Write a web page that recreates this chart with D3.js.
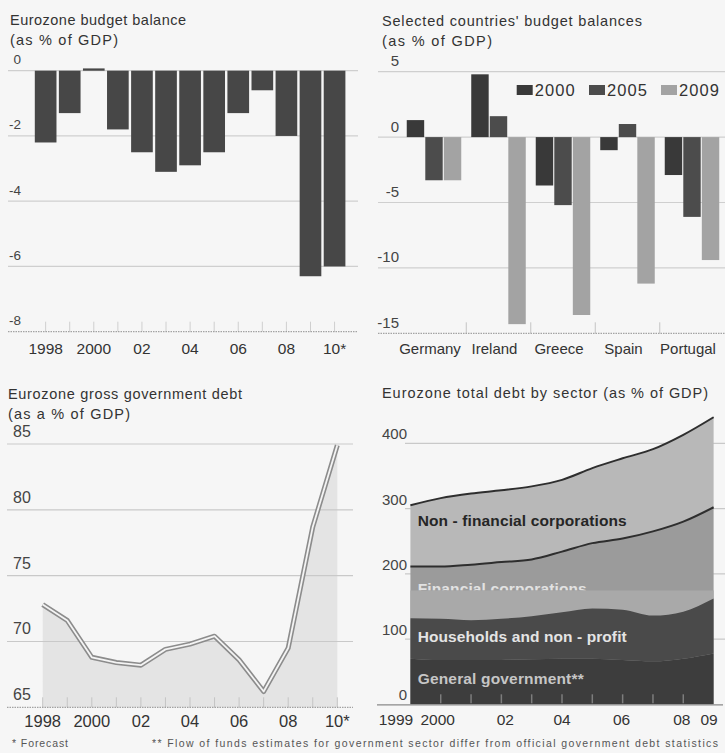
<!DOCTYPE html>
<html>
<head>
<meta charset="utf-8">
<script src="https://cdn.jsdelivr.net/npm/d3@7"></script>
<style>
  html, body { margin: 0; padding: 0; background: #f6f6f6; }
  svg { display: block; }
  text { font-family: "Liberation Sans", Arial, sans-serif; }
</style>
</head>
<body>
<svg id="chart" width="725" height="753"></svg>
<script>
// ---------------- DATA ----------------
// Chart 1: Eurozone budget balance (% of GDP)
const balanceYears = ["1998","1999","2000","2001","2002","2003","2004","2005","2006","2007","2008","2009","2010"];
const balanceValues = [-2.2, -1.3, 0.07, -1.8, -2.5, -3.1, -2.9, -2.5, -1.3, -0.6, -2.0, -6.3, -6.0];
const balanceAxisYears = ["1998","2000","2002","2004","2006","2008","2010"];
const balanceAxisLabels = ["1998","2000","02","04","06","08","10*"];
const balanceYTicks = [0, -2, -4, -6, -8];

// Chart 2: Selected countries' budget balances
const countries = ["Germany","Ireland","Greece","Spain","Portugal"];
const countrySeries = ["2000","2005","2009"];
const values2000 = [1.3, 4.8, -3.7, -1.0, -2.9];
const values2005 = [-3.3, 1.6, -5.2, 1.0, -6.1];
const values2009 = [-3.3, -14.3, -13.6, -11.2, -9.4];
const countryYTicks = [5, 0, -5, -10, -15];

// Chart 3: Eurozone gross government debt (% of GDP)
const debtYears = [1998,1999,2000,2001,2002,2003,2004,2005,2006,2007,2008,2009,2010];
const debtValues = [72.8, 71.6, 68.8, 68.4, 68.2, 69.4, 69.8, 70.4, 68.6, 66.2, 69.5, 78.7, 84.9];
const debtAxisYears = [1998,2000,2002,2004,2006,2008,2010];
const debtAxisLabels = ["1998","2000","02","04","06","08","10*"];
const debtYTicks = [85, 80, 75, 70, 65];

// Chart 4: Eurozone total debt by sector (% of GDP)
const sectorYears = [1999,2000,2001,2002,2003,2004,2005,2006,2007,2008,2009];
const sectorNames = ["General government**","Households and non - profit","Financial corporations","Non - financial corporations"];
const govDebt = [70, 68, 68, 68, 69, 70, 70, 68, 66, 70, 78];
const householdDebt = [62, 63, 61, 63, 66, 71, 77, 77, 70, 72, 84];
const financialDebt = [79, 80, 85, 87, 87, 93, 100, 109, 129, 138, 140];
const nonFinancialDebt = [94, 105, 109, 110, 112, 110, 115, 123, 126, 133, 138];
const sectorAxisYears = [1999,2000,2002,2004,2006,2008,2009];
const sectorAxisLabels = ["1999","2000","02","04","06","08","09"];
const sectorTickYears = [2000,2001,2002,2003,2004,2005,2006,2007,2008];
const sectorYTicks = [0, 100, 200, 300, 400];

// ---------------- DRAW ----------------
const svg = d3.select("#chart");
svg.append("rect").attr("width", 725).attr("height", 753).attr("fill", "#f6f6f6");

const titleColor = "#333";
function title(x, y, txt, len) {
  svg.append("text").attr("x", x).attr("y", y).text(txt)
    .attr("font-size", 14.5).attr("fill", titleColor)
    .attr("textLength", len).attr("lengthAdjust", "spacing");
}

// ===== Chart 1 =====
{
  title(10, 25, "Eurozone budget balance", 176);
  title(10, 45, "(as % of GDP)", 108);
  const g = svg.append("g");
  const x = d3.scaleBand().domain(balanceYears).range([33.6, 346.6]).paddingInner(0.1).paddingOuter(0.05);
  const y = d3.scaleLinear().domain([-8, 0]).range([331.7, 70.7]);
  const bw = x.bandwidth();
  g.selectAll(".grid").data(balanceYTicks.filter(t => t > -8)).join("line")
    .attr("x1", 8).attr("x2", 358).attr("y1", d => y(d)).attr("y2", d => y(d))
    .attr("stroke", "#cfcfcf").attr("stroke-width", 1.2);
  g.selectAll(".tick").data(balanceYears).join("line")
    .attr("x1", d => x(d) + bw / 2).attr("x2", d => x(d) + bw / 2)
    .attr("y1", y(-8) - 10).attr("y2", y(-8))
    .attr("stroke", "#cfcfcf").attr("stroke-width", 1);
  g.append("line").attr("x1", 8).attr("x2", 358).attr("y1", y(-8)).attr("y2", y(-8))
    .attr("stroke", "#8f8f8f").attr("stroke-width", 1).attr("stroke-dasharray", "1.5,1");
  g.selectAll(".bar").data(balanceValues).join("rect")
    .attr("x", (d, i) => x(balanceYears[i]))
    .attr("width", bw)
    .attr("y", d => Math.min(y(d), y(0)))
    .attr("height", d => Math.abs(y(d) - y(0)))
    .attr("fill", "#474747");
  g.selectAll(".ylab").data(balanceYTicks).join("text")
    .attr("x", 21).attr("y", d => y(d) - 6.5).attr("text-anchor", "end")
    .attr("font-size", 13.5).attr("fill", "#444")
    .text(d => d < 0 ? "-" + Math.abs(d) : String(d));
  g.selectAll(".xlab").data(balanceAxisYears).join("text")
    .attr("x", d => x(d) + bw / 2).attr("y", 353.5).attr("text-anchor", "middle")
    .attr("font-size", 15.5).attr("fill", "#333")
    .text((d, i) => balanceAxisLabels[i]);
}

// ===== Chart 2 =====
{
  title(382, 26, "Selected countries' budget balances", 260);
  title(382, 46, "(as % of GDP)", 110);
  const g = svg.append("g");
  const x0 = d3.scaleBand().domain(countries).range([401.75, 724.25]);
  const x1 = d3.scaleBand().domain(countrySeries).range([5, 59.5]).paddingInner(0.06);
  const y = d3.scaleLinear().domain([-15, 5]).range([333.3, 71.7]);
  const colors = { "2000": "#393939", "2005": "#4c4c4c", "2009": "#a3a3a3" };
  const seriesVals = { "2000": values2000, "2005": values2005, "2009": values2009 };
  g.selectAll(".grid").data(countryYTicks.filter(t => t > -15)).join("line")
    .attr("x1", 378).attr("x2", 725).attr("y1", d => y(d)).attr("y2", d => y(d))
    .attr("stroke", "#cfcfcf").attr("stroke-width", 1.2);
  g.selectAll(".sep").data(countries.slice(1)).join("line")
    .attr("x1", d => x0(d)).attr("x2", d => x0(d))
    .attr("y1", y(-15) - 11).attr("y2", y(-15))
    .attr("stroke", "#c4c4c4").attr("stroke-width", 1);
  g.append("line").attr("x1", 378).attr("x2", 725).attr("y1", y(-15)).attr("y2", y(-15))
    .attr("stroke", "#8f8f8f").attr("stroke-width", 1).attr("stroke-dasharray", "1.5,1");
  countrySeries.forEach(s => {
    g.selectAll(".bar" + s).data(seriesVals[s]).join("rect")
      .attr("x", (d, i) => x0(countries[i]) + x1(s))
      .attr("width", x1.bandwidth())
      .attr("y", d => Math.min(y(d), y(0)))
      .attr("height", d => Math.abs(y(d) - y(0)))
      .attr("fill", colors[s]);
  });
  g.selectAll(".ylab").data(countryYTicks).join("text")
    .attr("x", 399).attr("y", d => y(d) - 5.5).attr("text-anchor", "end")
    .attr("font-size", 15).attr("fill", "#444")
    .text(d => d < 0 ? "-" + Math.abs(d) : String(d));
  g.selectAll(".xlab").data(countries).join("text")
    .attr("x", d => x0(d) + x0.bandwidth() / 2 - 4).attr("y", 353.5).attr("text-anchor", "middle")
    .attr("font-size", 15).attr("fill", "#333")
    .text(d => d);
  // legend
  const lx = d3.scaleOrdinal().domain(countrySeries).range([516.7, 589, 661]);
  const leg = g.selectAll(".leg").data(countrySeries).join("g")
    .attr("transform", d => `translate(${lx(d)},85)`);
  leg.append("rect").attr("width", 16).attr("height", 10).attr("fill", d => colors[d]);
  leg.append("text").attr("x", 18).attr("y", 10.5).attr("font-size", 16.5).attr("fill", "#333")
    .attr("textLength", 40).attr("lengthAdjust", "spacing").text(d => d);
}

// ===== Chart 3 =====
{
  title(8, 398.5, "Eurozone gross government debt", 234);
  title(8, 419, "(as a % of GDP)", 122);
  const g = svg.append("g");
  const x = d3.scaleLinear().domain([1998, 2010]).range([42.7, 337.3]);
  const y = d3.scaleLinear().domain([65, 85]).range([707.3, 444]);
  const pts = debtYears.map((yr, i) => [yr, debtValues[i]]);
  g.append("path").datum(pts)
    .attr("d", d3.area().x(d => x(d[0])).y0(y(65)).y1(d => y(d[1])))
    .attr("fill", "#e4e4e4");
  g.selectAll(".grid").data(debtYTicks.filter(t => t > 65)).join("line")
    .attr("x1", 7).attr("x2", 353).attr("y1", d => y(d)).attr("y2", d => y(d))
    .attr("stroke", "#c9c9c9").attr("stroke-width", 1.2);
  g.selectAll(".tick").data(debtYears).join("line")
    .attr("x1", d => x(d)).attr("x2", d => x(d))
    .attr("y1", y(65) - 10).attr("y2", y(65))
    .attr("stroke", "#c4c4c4").attr("stroke-width", 1);
  g.append("line").attr("x1", 7).attr("x2", 353).attr("y1", y(65)).attr("y2", y(65))
    .attr("stroke", "#8f8f8f").attr("stroke-width", 1).attr("stroke-dasharray", "1.5,1");
  const line = d3.line().x(d => x(d[0])).y(d => y(d[1]));
  g.append("path").datum(pts).attr("d", line).attr("fill", "none")
    .attr("stroke", "#8c8c8c").attr("stroke-width", 5).attr("stroke-linejoin", "round");
  g.append("path").datum(pts).attr("d", line).attr("fill", "none")
    .attr("stroke", "#f4f4f4").attr("stroke-width", 1.8).attr("stroke-linejoin", "round");
  g.selectAll(".ylab").data(debtYTicks).join("text")
    .attr("x", 13).attr("y", d => y(d) - 7).attr("text-anchor", "start")
    .attr("font-size", 16).attr("fill", "#444")
    .text(d => d);
  g.selectAll(".xlab").data(debtAxisYears).join("text")
    .attr("x", d => x(d)).attr("y", 727).attr("text-anchor", "middle")
    .attr("font-size", 16.5).attr("fill", "#333")
    .text((d, i) => debtAxisLabels[i]);
}

// ===== Chart 4 =====
{
  title(382, 397.5, "Eurozone total debt by sector (as % of GDP)", 326);
  const g = svg.append("g");
  const x = d3.scaleLinear().domain([1999, 2009]).range([410.4, 713.6]);
  const y = d3.scaleLinear().domain([0, 400]).range([704.3, 443.3]);
  g.selectAll(".grid").data(sectorYTicks.filter(t => t > 0)).join("line")
    .attr("x1", 405).attr("x2", 725).attr("y1", d => y(d)).attr("y2", d => y(d))
    .attr("stroke", "#c9c9c9").attr("stroke-width", 1.2);
  const rows = sectorYears.map((yr, i) => ({
    year: yr, gov: govDebt[i], hh: householdDebt[i], fin: financialDebt[i], nfc: nonFinancialDebt[i]
  }));
  const keys = ["gov", "hh", "fin", "nfc"];
  const stack = d3.stack().keys(keys)(rows);
  const fills = { gov: "#3d3d3d", hh: "#4a4a4a", fin: "#9b9b9b", nfc: "#b8b8b8" };
  const area = d3.area().x(d => x(d.data.year)).y0(d => y(d[0])).y1(d => y(d[1])).curve(d3.curveMonotoneX);
  const topLine = d3.line().x(d => x(d.data.year)).y(d => y(d[1])).curve(d3.curveMonotoneX);
  const byKey = {};
  stack.forEach(s => byKey[s.key] = s);
  // upper layers first
  ["nfc", "fin"].forEach(k => {
    g.append("path").datum(byKey[k]).attr("d", area).attr("fill", fills[k]);
  });
  // financial label (partly hidden by lighter band, as in source)
  const clipId = "finclip";
  svg.append("clipPath").attr("id", clipId).append("rect")
    .attr("x", 405).attr("y", 560).attr("width", 320).attr("height", 30.5);
  g.append("text").attr("x", 417.7).attr("y", 593.5).attr("font-size", 15.5).attr("font-weight", "bold")
    .attr("fill", "#e2e2e2").attr("clip-path", `url(#${clipId})`)
    .attr("textLength", 169).attr("lengthAdjust", "spacing").text(sectorNames[2]);
  g.append("rect").attr("x", x(1999)).attr("width", x(2009) - x(1999))
    .attr("y", 590.5).attr("height", y(0) - 590.5).attr("fill", "#a9a9a9");
  ["hh", "gov"].forEach(k => {
    g.append("path").datum(byKey[k]).attr("d", area).attr("fill", fills[k]);
  });
  ["nfc", "fin"].forEach(k => {
    g.append("path").datum(byKey[k]).attr("d", topLine).attr("fill", "none")
      .attr("stroke", "#2e2e2e").attr("stroke-width", 2);
  });
  // baseline and ticks
  g.append("line").attr("x1", 377).attr("x2", 723).attr("y1", y(0) + 0.5).attr("y2", y(0) + 0.5)
    .attr("stroke", "#8a8a8a").attr("stroke-width", 1.2);
  g.selectAll(".tick").data(sectorTickYears).join("line")
    .attr("x1", d => x(d)).attr("x2", d => x(d))
    .attr("y1", y(0) - 10).attr("y2", y(0) - 1)
    .attr("stroke", "#7d7d7d").attr("stroke-width", 1.5);
  // labels inside areas
  const lab = [
    { t: sectorNames[3], y: 525.5, c: "#262626", w: 209 },
    { t: sectorNames[1], y: 642, c: "#e4e4e4", w: 209 },
    { t: sectorNames[0], y: 684, c: "#c6c6c6", w: 166 }
  ];
  g.selectAll(".alab").data(lab).join("text")
    .attr("x", 417.7).attr("y", d => d.y).attr("font-size", 15.5).attr("font-weight", "bold")
    .attr("fill", d => d.c).attr("textLength", d => d.w).attr("lengthAdjust", "spacing")
    .text(d => d.t);
  g.selectAll(".ylab").data(sectorYTicks).join("text")
    .attr("x", 407).attr("y", d => y(d) - 4).attr("text-anchor", "end")
    .attr("font-size", 15).attr("fill", "#444")
    .text(d => d);
  const labDx = [-14.5, -3, 4, 0, -1, -1.5, -4.5];
  g.selectAll(".xlab").data(sectorAxisYears).join("text")
    .attr("x", (d, i) => x(d) + labDx[i]).attr("y", 725).attr("text-anchor", "middle")
    .attr("font-size", 15.5).attr("fill", "#333")
    .text((d, i) => sectorAxisLabels[i]);
}

// footnotes
svg.append("text").attr("x", 12).attr("y", 747).attr("font-size", 10.5).attr("fill", "#555")
  .attr("textLength", 56).attr("lengthAdjust", "spacing").text("* Forecast");
svg.append("text").attr("x", 152).attr("y", 747).attr("font-size", 10.5).attr("fill", "#555")
  .attr("textLength", 566).attr("lengthAdjust", "spacing")
  .text("** Flow of funds estimates for government sector differ from official government debt statistics");
</script>
</body>
</html>
